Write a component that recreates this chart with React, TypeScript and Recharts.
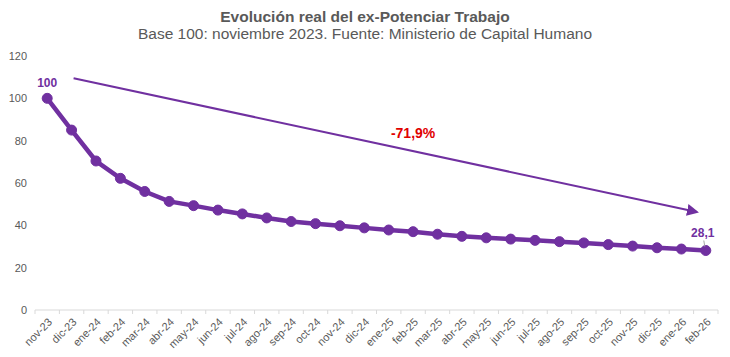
import { LineChart, Line, XAxis, YAxis, ReferenceLine, ReferenceDot, LabelList } from "recharts";

const months = [
  "nov-23", "dic-23", "ene-24", "feb-24", "mar-24", "abr-24", "may-24", "jun-24", "jul-24", "ago-24",
  "sep-24", "oct-24", "nov-24", "dic-24", "ene-25", "feb-25", "mar-25", "abr-25", "may-25", "jun-25",
  "jul-25", "ago-25", "sep-25", "oct-25", "nov-25", "dic-25", "ene-26", "feb-26",
];
const realIndex = [
  100, 85, 70.4, 62.2, 56, 51.3, 49.3, 47.2, 45.4, 43.5,
  41.8, 40.8, 39.8, 38.8, 37.8, 37, 35.8, 34.8, 34.1, 33.5,
  32.9, 32.3, 31.7, 30.9, 30.2, 29.4, 28.8, 28.1,
];
const yTicks = [0, 20, 40, 60, 80, 100, 120];
const arrowFrom = { x: "dic-23", y: 109.5 };
const arrowTo = { x: "feb-26", y: 45.4 };
const changeLabel = { x: "feb-25", y: 83.6, text: "-71,9%" };

const data = months.map((m, i) => ({ month: m, value: realIndex[i] }));

const W = 730;
const H = 357;
const M = { top: 56, right: 12, bottom: 0, left: 0 };
const Y_W = 35;
const X_H = 47;
const AXIS_Y = H - X_H;
const BAND = (W - M.right - Y_W) / months.length;
const PURPLE = "#7030a0";
const GREY = "#595959";
const FONT = "'Liberation Sans', Arial, sans-serif";

function MonthTick(props: any) {
  const { x, payload, index } = props;
  const isLast = index === months.length - 1;
  return (
    <g>
      <line x1={x - BAND / 2} x2={x - BAND / 2} y1={AXIS_Y} y2={AXIS_Y + 4} stroke="#d9d9d9" />
      {isLast && <line x1={x + BAND / 2} x2={x + BAND / 2} y1={AXIS_Y} y2={AXIS_Y + 4} stroke="#d9d9d9" />}
      <text
        x={x + 3}
        y={AXIS_Y + 10}
        textAnchor="end"
        fill={GREY}
        fontSize={11}
        fontFamily={FONT}
        transform={`rotate(-45, ${x + 3}, ${AXIS_Y + 10})`}
        dy="0.35em"
      >
        {payload.value}
      </text>
    </g>
  );
}

function EndLabel(props: any) {
  const { x, y, index, value } = props;
  if (index === 0) {
    return (
      <text x={x} y={y - 11} textAnchor="middle" fill={PURPLE} fontSize={12} fontWeight={700} fontFamily={FONT}>
        {value}
      </text>
    );
  }
  if (index === months.length - 1) {
    return (
      <g>
        <line x1={x - 2} y1={y - 10} x2={x - 1} y2={y - 4} stroke="#a6a6a6" />
        <text x={x - 3} y={y - 14} textAnchor="middle" fill={PURPLE} fontSize={12} fontWeight={700} fontFamily={FONT}>
          {String(value).replace(".", ",")}
        </text>
      </g>
    );
  }
  return null;
}

function Arrow(props: any) {
  const { x1, y1, x2, y2 } = props;
  const dx = x2 - x1;
  const dy = y2 - y1;
  const len = Math.sqrt(dx * dx + dy * dy);
  const k = (len - 9) / len;
  return (
    <g>
      <defs>
        <marker id="arrowHead" markerWidth="6" markerHeight="6" refX="5" refY="3" orient="auto" markerUnits="strokeWidth">
          <path d="M0,0 L6,3 L0,6 Z" fill={PURPLE} />
        </marker>
      </defs>
      <line x1={x1 + 2} y1={y1} x2={x1 + dx * k} y2={y1 + dy * k} stroke={PURPLE} strokeWidth={2} markerEnd="url(#arrowHead)" />
    </g>
  );
}

function ChangeText(props: any) {
  const { cx, cy } = props;
  return (
    <text x={cx} y={cy} textAnchor="middle" dy="0.35em" fill="#e00000" fontSize={14} fontWeight={700} fontFamily={FONT}>
      {changeLabel.text}
    </text>
  );
}

export default function App() {
  return (
    <div style={{ position: "absolute", left: 0, top: 0, width: W, height: H, background: "#fff", fontFamily: FONT }}>
      <div style={{ position: "absolute", top: 8, left: 0, width: W, textAlign: "center", color: GREY, fontSize: 15.5, fontWeight: 700 }}>
        Evolución real del ex-Potenciar Trabajo
      </div>
      <div style={{ position: "absolute", top: 25, left: 0, width: W, textAlign: "center", color: GREY, fontSize: 15.5 }}>
        Base 100: noviembre 2023. Fuente: Ministerio de Capital Humano
      </div>
      <LineChart width={W} height={H} data={data} margin={M}>
        <XAxis
          dataKey="month"
          scale="band"
          interval={0}
          height={X_H}
          tickLine={false}
          axisLine={{ stroke: "#d9d9d9" }}
          tick={<MonthTick />}
        />
        <YAxis
          width={Y_W}
          domain={[0, 120]}
          ticks={yTicks}
          axisLine={false}
          tickLine={false}
          tick={{ fill: GREY, fontSize: 11, fontFamily: FONT }}
        />
        <ReferenceLine segment={[arrowFrom, arrowTo]} shape={<Arrow />} ifOverflow="visible" />
        <ReferenceDot x={changeLabel.x} y={changeLabel.y} r={0} shape={<ChangeText />} ifOverflow="visible" />
        <Line
          dataKey="value"
          stroke={PURPLE}
          strokeWidth={4.5}
          dot={{ r: 5, fill: PURPLE, stroke: PURPLE, strokeWidth: 1 }}
          isAnimationActive={false}
        >
          <LabelList dataKey="value" content={<EndLabel />} />
        </Line>
      </LineChart>
    </div>
  );
}
